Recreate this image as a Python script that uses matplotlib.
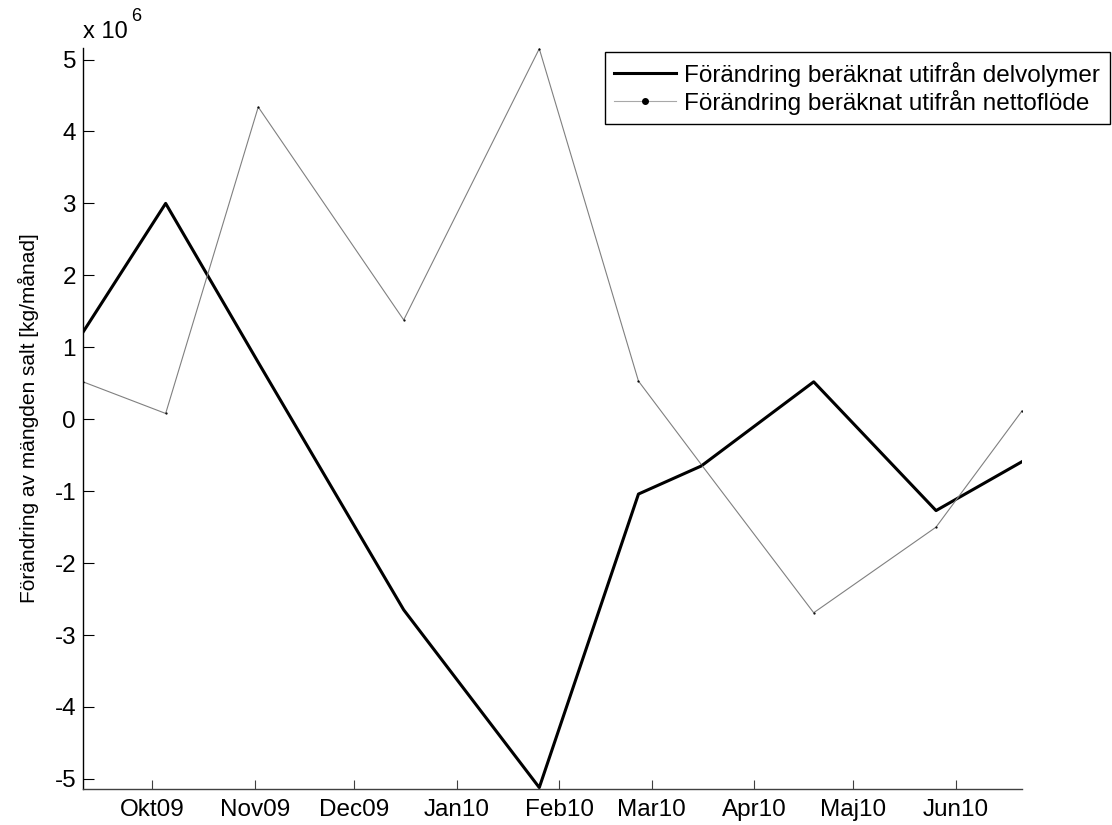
import datetime as dt
import matplotlib
matplotlib.use('Agg')
import matplotlib.pyplot as plt
import matplotlib.dates as mdates
from matplotlib.lines import Line2D

plt.rcParams['font.family'] = ['Liberation Sans', 'DejaVu Sans']
plt.rcParams['axes.unicode_minus'] = False

# månadsvisa mätdatum och saltförändring [kg/månad]
datum = ['2009-09-10', '2009-10-05', '2009-11-02', '2009-12-16', '2010-01-26',
         '2010-02-25', '2010-03-16', '2010-04-19', '2010-05-26', '2010-06-21']
delvolymer = [1.21e6, 3.00e6, 0.79e6, -2.65e6, -5.12e6,
              -1.04e6, -0.65e6, 0.52e6, -1.27e6, -0.59e6]
nettoflode = [0.52e6, 0.08e6, 4.34e6, 1.38e6, 5.15e6,
              0.53e6, -0.63e6, -2.69e6, -1.50e6, 0.115e6]

manader = ['2009-10-01', '2009-11-01', '2009-12-01', '2010-01-01', '2010-02-01',
           '2010-03-01', '2010-04-01', '2010-05-01', '2010-06-01']
manad_etiketter = ['Okt09', 'Nov09', 'Dec09', 'Jan10', 'Feb10',
                   'Mar10', 'Apr10', 'Maj10', 'Jun10']

t = [mdates.date2num(dt.datetime.strptime(d, '%Y-%m-%d')) for d in datum]
tm = [mdates.date2num(dt.datetime.strptime(d, '%Y-%m-%d')) for d in manader]
skala = 1e6

fig = plt.figure(figsize=(11.12, 8.25), dpi=100)
ax = fig.add_axes([83 / 1112, 1 - 789 / 825, (1022 - 83) / 1112, (789 - 48) / 825])

ax.plot(t, [v / skala for v in delvolymer], color='black', lw=2.2)
ax.plot(t, [v / skala for v in nettoflode], color='#808080', lw=0.8,
        marker='.', ms=1.2, mfc='black', mec='black')

ax.set_xlim(t[0], t[-1])
ax.set_ylim(-5.14, 5.16)
ax.set_xticks(tm)
ax.set_xticklabels(manad_etiketter)
ax.set_yticks(range(-5, 6))
ax.set_yticklabels([str(v) for v in range(-5, 6)])
ax.tick_params(direction='in', labelsize=17.5, width=0.8, pad=5)
ax.tick_params(axis='y', length=8)
ax.tick_params(axis='x', length=6.5, pad=7, color='#404040')
for s in ['top', 'right']:
    ax.spines[s].set_visible(False)
ax.spines['left'].set_linewidth(1.0)
ax.spines['bottom'].set_linewidth(1.0)
ax.spines['bottom'].set_color('#404040')

ax.set_ylabel('Förändring av mängden salt [kg/månad]', fontsize=15, labelpad=11)

# exponent ovanför y-axeln
fig.text(83 / 1112, 1 - 38 / 825, 'x 10', fontsize=17, ha='left', va='baseline')
fig.text(131 / 1112, 1 - 21 / 825, '6', fontsize=13, ha='left', va='baseline')

handtag = [Line2D([], [], color='black', lw=2.2),
           Line2D([], [], color='#a8a8a8', lw=0.8, marker='.', ms=8,
                  mfc='black', mec='black')]
etiketter = ['Förändring beräknat utifrån delvolymer',
             'Förändring beräknat utifrån nettoflöde']
leg = fig.legend(handtag, etiketter, loc='upper right',
                 bbox_to_anchor=(1110 / 1112, 1 - 52 / 825),
                 fontsize=17.5, fancybox=False, framealpha=1, edgecolor='black',
                 handlelength=2.55, handletextpad=0.33, borderpad=0.4,
                 labelspacing=0.12, borderaxespad=0)
leg.get_frame().set_linewidth(1.0)

fig.savefig('out.png', dpi=100)
